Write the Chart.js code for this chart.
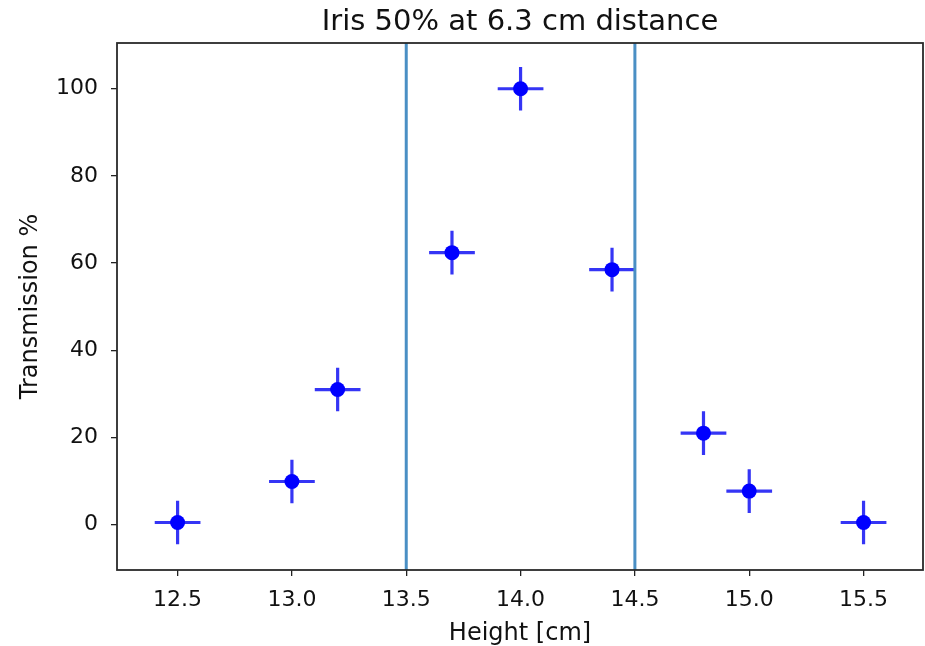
<!DOCTYPE html>
<html>
<head>
<meta charset="utf-8">
<script src="https://cdn.jsdelivr.net/npm/chart.js@4.4.1/dist/chart.umd.min.js"></script>
<style>
  html, body { margin: 0; padding: 0; background: #fff; }
</style>
</head>
<body>
<canvas id="chart" width="925" height="646"></canvas>
<script>
const heights = [12.5, 13.0, 13.2, 13.7, 14.0, 14.4, 14.8, 15.0, 15.5];
const transmission = [0.5, 9.9, 31, 62.4, 100, 58.5, 21, 7.7, 0.5];
const heightErr = [0.1, 0.1, 0.1, 0.1, 0.1, 0.1, 0.1, 0.1, 0.1];
const transErr = [5, 5, 5, 5, 5, 5, 5, 5, 5];
// Vertical marker lines
const cutLines = [13.5, 14.5];
// Axis ticks
const xTicks = [12.5, 13.0, 13.5, 14.0, 14.5, 15.0, 15.5];
const yTicks = [0, 20, 40, 60, 80, 100];

const X_MIN = 12.235, X_MAX = 15.76;
const Y_MIN = -10.4, Y_MAX = 110.5;
const FONT = "'DejaVu Sans', sans-serif";
const BAR_COLOR = '#3535f5';
const LINE_COLOR = '#4a8fc4';

// Error bars drawn under the markers
const errorBars = {
    id: 'errorBars',
    beforeDatasetsDraw(chart) {
        const { ctx, chartArea, scales: { x, y } } = chart;
        ctx.save();
        ctx.beginPath();
        ctx.rect(chartArea.left, chartArea.top, chartArea.width, chartArea.height);
        ctx.clip();
        ctx.strokeStyle = BAR_COLOR;
        ctx.lineWidth = 3.2;
        heights.forEach((h, i) => {
            const t = transmission[i];
            ctx.beginPath();
            ctx.moveTo(x.getPixelForValue(h - heightErr[i]), y.getPixelForValue(t));
            ctx.lineTo(x.getPixelForValue(h + heightErr[i]), y.getPixelForValue(t));
            ctx.moveTo(x.getPixelForValue(h), y.getPixelForValue(t - transErr[i]));
            ctx.lineTo(x.getPixelForValue(h), y.getPixelForValue(t + transErr[i]));
            ctx.stroke();
        });
        ctx.restore();
    }
};

// Box around the plot area
const frame = {
    id: 'frame',
    afterDraw(chart) {
        const { ctx, chartArea: a } = chart;
        ctx.save();
        ctx.strokeStyle = '#2a2a2a';
        ctx.lineWidth = 1.8;
        ctx.strokeRect(a.left, a.top, a.width, a.height);
        ctx.restore();
    }
};

const vlineSets = cutLines.map(v => ({
    type: 'line',
    data: [{ x: v, y: Y_MIN }, { x: v, y: Y_MAX }],
    borderColor: LINE_COLOR,
    borderWidth: 3,
    pointRadius: 0,
    fill: false
}));

new Chart(document.getElementById('chart'), {
    type: 'scatter',
    data: {
        datasets: [
            ...vlineSets,
            {
                data: heights.map((h, i) => ({ x: h, y: transmission[i] })),
                backgroundColor: '#0000ff',
                borderColor: '#0000ff',
                pointRadius: 7.5,
                pointHoverRadius: 7.5,
                borderWidth: 0
            }
        ]
    },
    options: {
        responsive: false,
        animation: false,
        events: [],
        layout: { autoPadding: false, padding: { left: 0, right: 2, top: 0, bottom: 0 } },
        plugins: {
            legend: { display: false },
            tooltip: { enabled: false },
            title: { display: false }
        },
        scales: {
            x: {
                type: 'linear',
                min: X_MIN,
                max: X_MAX,
                afterBuildTicks: axis => { axis.ticks = xTicks.map(v => ({ value: v })); },
                afterFit: axis => { axis.height = 76; axis.paddingLeft = 0; axis.paddingRight = 0; },
                grid: { display: true, drawOnChartArea: false, drawTicks: true, tickLength: 6, color: '#222', lineWidth: 1.3 },
                border: { display: false },
                ticks: {
                    color: '#111',
                    padding: 11,
                    font: { family: FONT, size: 22 },
                    callback: v => Number(v).toFixed(1)
                },
                title: {
                    display: true,
                    text: 'Height [cm]',
                    color: '#111',
                    font: { family: FONT, size: 24 },
                    padding: { top: 0, bottom: -2 }
                }
            },
            // top axis only carries the chart title, centred over the plot
            top: {
                type: 'linear',
                position: 'top',
                min: X_MIN,
                max: X_MAX,
                afterFit: axis => { axis.height = 43; axis.paddingLeft = 0; axis.paddingRight = 0; },
                grid: { display: false, drawTicks: false },
                border: { display: false },
                ticks: { display: false },
                title: {
                    display: true,
                    text: 'Iris 50% at 6.3 cm distance',
                    color: '#111',
                    font: { family: FONT, size: 29 },
                    padding: { top: 5, bottom: 0 }
                }
            },
            y: {
                type: 'linear',
                min: Y_MIN,
                max: Y_MAX,
                afterBuildTicks: axis => { axis.ticks = yTicks.map(v => ({ value: v })); },
                afterFit: axis => { axis.width = 117; },
                grid: { display: true, drawOnChartArea: false, drawTicks: true, tickLength: 6, color: '#222', lineWidth: 1.3 },
                border: { display: false },
                ticks: {
                    color: '#111',
                    padding: 13,
                    font: { family: FONT, size: 22 }
                },
                title: {
                    display: true,
                    text: 'Transmission %',
                    color: '#111',
                    font: { family: FONT, size: 24 },
                    padding: { top: 16, bottom: 0 }
                }
            }
        }
    },
    plugins: [errorBars, frame]
});
</script>
</body>
</html>
